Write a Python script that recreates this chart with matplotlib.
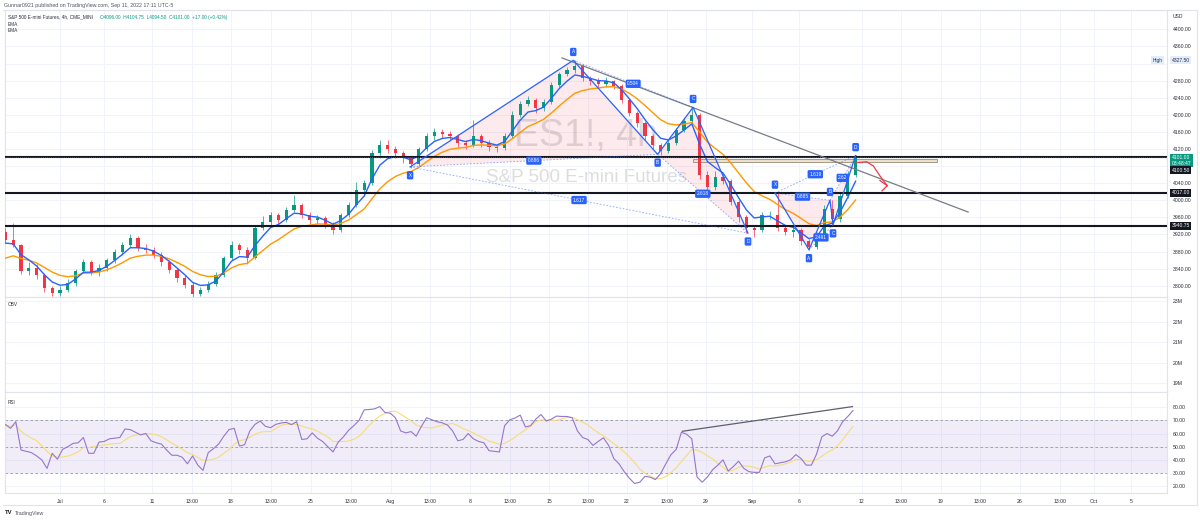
import numpy as np
import pandas as pd
import matplotlib
matplotlib.use('Agg')
import matplotlib.pyplot as plt
from matplotlib.patches import Polygon, Rectangle

plt.rcParams['font.family'] = ['Liberation Sans', 'DejaVu Sans']

W, H = 1200, 520

# ------------------------------------------------------------
# DATA (ES1! 4h, two candles per day)
# ------------------------------------------------------------
bar_day0 = -3.5          # trading-day position of first candle (0 = Jul 1)
bars_per_day = 2
first_open = 3925

closes = [3907, 3895, 3835, 3842, 3825, 3795, 3783, 3790, 3806, 3835,
          3855, 3832, 3842, 3860, 3879, 3895, 3912, 3889, 3884, 3872,
          3855, 3837, 3818, 3802, 3781, 3790, 3804, 3825, 3865, 3895,
          3884, 3865, 3935, 3949, 3966, 3954, 3977, 3989, 3966, 3954,
          3958, 3942, 3930, 3966, 3989, 4024, 4040, 4110, 4130, 4120,
          4110, 4098, 4085, 4120, 4150, 4160, 4155, 4150, 4135, 4130,
          4150, 4135, 4125, 4122, 4150, 4200, 4225, 4235, 4215, 4230,
          4270, 4295, 4305, 4315, 4285, 4278, 4272, 4278, 4268, 4235,
          4205, 4180, 4150, 4130, 4115, 4135, 4165, 4185, 4200, 4060,
          4030, 4055, 4045, 3995, 3960, 3935, 3930, 3965, 3965, 3935,
          3925, 3930, 3905, 3890, 3920, 3980, 3955, 4010, 4060, 4101]

highs = [3935, 3947, 3898, 3855, 3850, 3830, 3800, 3800, 3815, 3840,
         3862, 3860, 3850, 3866, 3885, 3902, 3922, 3916, 3898, 3890,
         3878, 3860, 3842, 3825, 3808, 3798, 3810, 3832, 3870, 3905,
         3900, 3890, 3940, 3962, 3972, 3970, 3985, 4013, 3993, 3972,
         3965, 3962, 3948, 3970, 3995, 4043, 4048, 4118, 4142, 4140,
         4128, 4115, 4102, 4125, 4158, 4168, 4166, 4162, 4155, 4142,
         4188, 4155, 4140, 4132, 4158, 4208, 4232, 4245, 4240, 4236,
         4276, 4300, 4312, 4327.5, 4318, 4290, 4285, 4288, 4282, 4272,
         4240, 4210, 4185, 4155, 4135, 4140, 4170, 4192, 4217, 4205,
         4068, 4068, 4062, 4050, 4000, 3965, 3942, 3972, 3975, 4017,
         3940, 3938, 3935, 3910, 3925, 3990, 4000, 4018, 4068, 4104.75]

lows = [3900, 3890, 3828, 3825, 3815, 3785, 3775, 3776, 3785, 3800,
        3830, 3825, 3822, 3835, 3852, 3872, 3890, 3882, 3876, 3865,
        3845, 3830, 3808, 3795, 3774, 3776, 3785, 3800, 3820, 3860,
        3875, 3850, 3862, 3930, 3940, 3945, 3950, 3972, 3958, 3945,
        3945, 3935, 3920, 3925, 3960, 3985, 4010, 4035, 4100, 4110,
        4098, 4088, 4075, 4080, 4115, 4142, 4145, 4140, 4125, 4120,
        4125, 4125, 4115, 4112, 4118, 4145, 4195, 4220, 4205, 4208,
        4225, 4265, 4290, 4298, 4278, 4270, 4262, 4265, 4260, 4228,
        4198, 4172, 4142, 4120, 4107, 4110, 4130, 4160, 4180, 4050,
        4018, 4025, 4038, 3988, 3950, 3923, 3915, 3925, 3955, 3928,
        3918, 3915, 3895, 3884, 3886, 3915, 3942, 3950, 4005, 4055]

ema_fast_seed, ema_slow_seed = 3895, 3855
ema_fast_span, ema_slow_span = 4, 10

rsi_day0 = -3.5
rsi_per_day = 3
rsi_ma_len = 7
rsi_vals = [66.8, 64, 69, 47.5, 46.5, 45.5, 43, 40, 33.5, 45,
            40.5, 48, 50, 52.5, 53, 57, 45, 45, 53.5, 54,
            56, 56.5, 57, 63.5, 63, 61, 59, 60, 54.5, 53,
            52, 47.5, 43.5, 43.5, 42, 37, 43, 36, 32, 45.5,
            48.5, 52, 58, 63, 64, 50.5, 51.5, 62, 67, 69.5,
            65.5, 64.5, 67, 68, 68.5, 66.8, 69, 55.5, 56, 60.5,
            56.5, 54, 50, 46, 53.5, 57.5, 62.5, 66, 70, 78,
            78.3, 78.8, 80.5, 76, 75.5, 72, 62, 60.5, 61.5, 58,
            65.5, 72, 70.5, 69, 68.2, 66.5, 62, 54.5, 55.5, 60,
            56, 54, 53, 47, 46.5, 46, 66, 70.5, 71.8, 74,
            65, 66, 71, 74.5, 69.5, 71, 73.3, 73, 73, 72,
            62, 57, 55.5, 51, 54, 56.8, 51, 41, 37, 31,
            26, 22, 23, 27.5, 26.8, 25, 29.5, 37, 44, 48,
            61, 59.5, 56, 27, 23, 27, 32.5, 36, 40, 31.5,
            35, 39, 33.5, 31, 30.5, 30.5, 41.5, 43, 37, 37.8,
            38.5, 40, 44, 41, 36, 36, 44.5, 57.5, 60, 58,
            62, 69, 73, 77.5]
rsi_trend_day = [39.9, 50.8]
rsi_trend_val = [61.75, 80.5]

tick_days = [0, 2.83, 5.90, 8.44, 10.96, 13.53, 16.09, 18.65, 21.19, 23.72,
             26.31, 28.85, 31.35, 33.85, 36.35, 38.91, 41.41, 44.36, 47.37,
             51.41, 53.91, 56.47, 58.97, 61.54, 64.10, 66.28, 68.65]
tick_labels = ['Jul', '6', '11', '13:00', '18', '13:00', '25', '13:00', 'Aug',
               '13:00', '8', '13:00', '15', '13:00', '22', '13:00', '29', 'Sep',
               '6', '12', '13:00', '19', '13:00', '26', '13:00', 'Oct', '5']

price_grid = list(range(3800, 4401, 40))
price_labels_shown = [3800, 3840, 3880, 3920, 3960, 4000, 4040, 4120, 4160,
                      4200, 4240, 4280, 4360, 4400]
level_prices = [4100.5, 4017, 3940.75]
zone_days = [40.6, 56.2]
zone_prices = [4090, 4096]

# harmonic patterns: X A B C D
pat_names = ['X', 'A', 'B', 'C', 'D']
pat1_day = [22.44, 32.9, 38.31, 40.58, 44.10]
pat1_price = [4078, 4327.5, 4107.5, 4217.5, 3923]
pat1_ratios = ['0.886', '0.504', '2.618', '1.617']
pat2_day = [45.83, 48.01, 49.36, 49.55, 51.0]
pat2_price = [4017, 3884, 4000, 3942, 4104.75]
pat2_ratios = ['0.885', '2.491', '2.62', '1.619']

trend_day = [32.18, 58.21]
trend_price = [4333, 3972.5]

arrow_day = [51.08, 51.72, 52.14, 52.56, 52.88, 53.03]
arrow_price = [4088, 4090, 4080, 4057, 4041, 4034]
arrow_head_day = [52.56, 53.03, 52.69]
arrow_head_price = [4046, 4034, 4022]

obv_ticks = [19, 20, 21, 22, 23]

# ------------------------------------------------------------
GREEN, RED = '#089981', '#f23645'
BLUE, ORANGE = '#2962ff', '#ff9800'
GRID = '#f0f3fa'
TXT = '#2a2e39'

opens = [first_open] + closes[:-1]
n = len(closes)
days = [bar_day0 + i / bars_per_day for i in range(n)]


def ema(vals, seed, span):
    a = 2.0 / (span + 1)
    out, e = [], seed
    for v in vals:
        e = e + a * (v - e)
        out.append(e)
    return out


ema_fast = ema(closes, ema_fast_seed, ema_fast_span)
ema_slow = ema(closes, ema_slow_seed, ema_slow_span)

rsi_days = [rsi_day0 + k / rsi_per_day for k in range(len(rsi_vals))]
rsi_ma = pd.Series(rsi_vals).rolling(rsi_ma_len, min_periods=1).mean()

fig = plt.figure(figsize=(12, 5.2), dpi=100)
fig.patch.set_facecolor('white')


def fbox(x0, y0, x1, y1):
    return [x0 / W, 1 - y1 / H, (x1 - x0) / W, (y1 - y0) / H]


ax_p = fig.add_axes(fbox(5, 10, 1167, 297))
ax_o = fig.add_axes(fbox(5, 297, 1167, 392), sharex=ax_p)
ax_r = fig.add_axes(fbox(5, 392, 1167, 493), sharex=ax_p)

xlim = (-3.526, 70.96)
for ax in (ax_p, ax_o, ax_r):
    ax.set_xlim(*xlim)
    ax.set_facecolor('white')
    for s in ax.spines.values():
        s.set_color('#e0e3eb')
        s.set_linewidth(0.8)
    ax.yaxis.tick_right()
    ax.tick_params(axis='y', length=0, pad=4, labelsize=3.7, labelcolor=TXT)
    ax.tick_params(axis='x', length=0)
    ax.set_xticks(tick_days)
    ax.grid(axis='x', color=GRID, lw=0.7)
    ax.set_axisbelow(True)
for ax in (ax_p, ax_o):
    plt.setp(ax.get_xticklabels(), visible=False)
ax_r.set_xticklabels(tick_labels)
ax_r.tick_params(axis='x', labelsize=3.7, labelcolor=TXT, pad=4)

# ---------------- price pane ----------------
ax_p.set_ylim(3773.6, 4445.2)
for g in price_grid:
    ax_p.axhline(g, color=GRID, lw=0.7, zorder=0)
ax_p.set_yticks(price_labels_shown)
ax_p.set_yticklabels([f'{v:.2f}' for v in price_labels_shown])

ax_p.text(0.5, 0.56, 'ES1!, 4h', transform=ax_p.transAxes, ha='center',
          va='center', fontsize=27, color='#787b86', alpha=0.25, zorder=0)
ax_p.text(0.5, 0.418, 'S&P 500 E-mini Futures', transform=ax_p.transAxes,
          ha='center', va='center', fontsize=13.5, color='#787b86',
          alpha=0.25, zorder=0)

# pattern fills
for pd_, pp in ((pat1_day, pat1_price), (pat2_day, pat2_price)):
    for tri in ((0, 1, 2), (2, 3, 4)):
        ax_p.add_patch(Polygon([(pd_[j], pp[j]) for j in tri], closed=True,
                               fc=RED, alpha=0.1, ec='none', zorder=1))

# zone
ax_p.add_patch(Rectangle((zone_days[0], zone_prices[0]),
                         zone_days[1] - zone_days[0],
                         zone_prices[1] - zone_prices[0],
                         fc='#e9e0d0', ec='#a89a82', lw=0.7, zorder=2))

# candles
for x, o, h, l, c in zip(days, opens, highs, lows, closes):
    col = GREEN if c >= o else RED
    ax_p.vlines(x, l, h, color=col, lw=0.5, zorder=3)
    body = max(abs(c - o), 1.5)
    ax_p.bar(x, body, bottom=min(o, c), width=0.2, color=col, lw=0,
             zorder=3)

ax_p.plot(days, ema_slow, color=ORANGE, lw=1.0, zorder=4)
ax_p.plot(days, ema_fast, color=BLUE, lw=1.0, zorder=4)

# horizontal levels
for lv in level_prices:
    ax_p.axhline(lv, color='#131722', lw=1.5, zorder=5)
ax_p.axhline(4101, color=GREEN, lw=0.6, ls=(0, (1, 1.5)), zorder=5)

# trend line
ax_p.plot(trend_day, trend_price, color='#787b86', lw=0.9, zorder=5)


def tag(ax, x, y, txt, dy):
    ax.annotate(txt, xy=(x, y), xytext=(0, dy), textcoords='offset points',
                ha='center', va='center', fontsize=3.4, color='white',
                bbox=dict(boxstyle='round,pad=0.35,rounding_size=0.3',
                          fc=BLUE, ec='none'), zorder=8)


for pd_, pp, ratios in ((pat1_day, pat1_price, pat1_ratios),
                        (pat2_day, pat2_price, pat2_ratios)):
    ax_p.plot(pd_, pp, color=BLUE, lw=0.9, zorder=6)
    for (a, b), r in zip(((0, 2), (1, 3), (2, 4), (0, 4)), ratios):
        ax_p.plot([pd_[a], pd_[b]], [pp[a], pp[b]], color=BLUE, lw=0.6,
                  ls=(0, (2, 2)), alpha=0.55, zorder=6)
        tag(ax_p, (pd_[a] + pd_[b]) / 2, (pp[a] + pp[b]) / 2, r, 0)
    for j, nm in enumerate(pat_names):
        up = (j in (1, 3)) if pp[0] < pp[1] else (j in (0, 2, 4))
        tag(ax_p, pd_[j], pp[j], nm, 6 if up else -6)

# red hand drawn arrow
ax_p.plot(arrow_day, arrow_price, color='#f23645', lw=0.9, zorder=7)
ax_p.plot(arrow_head_day, arrow_head_price, color='#f23645', lw=0.9,
          zorder=7)


def axis_tag(ax, y, txt, fc, tc, dy=0):
    ax.annotate(txt, xy=(1, y), xycoords=('axes fraction', 'data'),
                xytext=(3.2, dy), textcoords='offset points', ha='left',
                va='center', fontsize=3.6, color=tc, linespacing=1.1,
                bbox=dict(boxstyle='square,pad=0.3', fc=fc, ec='none'),
                annotation_clip=False, zorder=10)


axis_tag(ax_p, 4327.5, '4327.50', '#e3ecfb', TXT)
ax_p.annotate('High', xy=(1, 4327.5), xycoords=('axes fraction', 'data'),
              xytext=(-7, 0), textcoords='offset points', ha='center',
              va='center', fontsize=3.4, color=TXT,
              bbox=dict(boxstyle='square,pad=0.3', fc='#e3ecfb', ec='none'),
              annotation_clip=False)
axis_tag(ax_p, 4101, '4101.00\n03:48:47', GREEN, 'white', -2.5)
axis_tag(ax_p, 4100.5, '4100.50', '#131722', 'white', -9.4)
axis_tag(ax_p, 4017, '4017.00', '#131722', 'white')
axis_tag(ax_p, 3940.75, '3940.75', '#131722', 'white')

# ---------------- OBV pane ----------------
ax_o.set_ylim(18.56, 23.2)
ax_o.set_yticks(obv_ticks)
ax_o.set_yticklabels([f'{v}M' for v in obv_ticks])
ax_o.grid(axis='y', color=GRID, lw=0.7)

# ---------------- RSI pane ----------------
ax_r.set_ylim(14.8, 91.6)
rsi_ticks = [20, 30, 40, 50, 60, 70, 80]
ax_r.set_yticks(rsi_ticks)
ax_r.set_yticklabels([f'{v:.2f}' for v in rsi_ticks])
ax_r.grid(axis='y', color=GRID, lw=0.7)
ax_r.axhspan(30, 70, color='#7e57c2', alpha=0.1, lw=0, zorder=1)
for lv in (30, 50, 70):
    ax_r.axhline(lv, color='#9598a1', lw=0.6, ls=(0, (3, 3)), zorder=2)
ax_r.plot(rsi_days, rsi_ma, color='#f5dc7a', lw=0.8, zorder=3)
ax_r.plot(rsi_days, rsi_vals, color='#9575cd', lw=0.8, zorder=4)
ax_r.plot(rsi_trend_day, rsi_trend_val, color='#5d606b', lw=0.9, zorder=5)

# ---------------- texts and frame ----------------
def ftext(x, y, s, **kw):
    fig.text(x / W, 1 - y / H, s, va='center', **kw)


ftext(4, 5, 'Gunnar0921 published on TradingView.com, Sep 11, 2022 17:11 UTC-5',
      fontsize=3.8, color='#50535e')
ftext(8, 17, 'S&P 500 E-mini Futures, 4h, CME_MINI', fontsize=3.4, color=TXT)
ftext(100, 17, 'O4096.00  H4104.75  L4094.50  C4101.00  +17.00 (+0.42%)',
      fontsize=3.4, color=GREEN)
ftext(8, 24, 'EMA', fontsize=3.4, color=TXT)
ftext(8, 31, 'EMA', fontsize=3.4, color=TXT)
ftext(8, 305, 'OBV', fontsize=3.4, color=TXT)
ftext(8, 402, 'RSI', fontsize=3.4, color=TXT)
ftext(1173, 16, 'USD', fontsize=3.6, color=TXT)
ftext(5, 513, 'TV', fontsize=4.2, color='#131722', fontweight='bold')
ftext(15, 513, 'TradingView', fontsize=3.8, color='#50535e')

fig.add_artist(plt.Line2D([3 / W, 1197 / W], [1 - 505 / H, 1 - 505 / H],
                          color='#e0e3eb', lw=0.8))
fig.add_artist(plt.Line2D([3 / W, 1197 / W], [1 - 10 / H, 1 - 10 / H],
                          color='#e0e3eb', lw=0.8))
fig.add_artist(plt.Line2D([1197 / W, 1197 / W], [1 - 505 / H, 1 - 10 / H],
                          color='#e0e3eb', lw=0.8))

fig.savefig('out.png', dpi=100, facecolor='white')
